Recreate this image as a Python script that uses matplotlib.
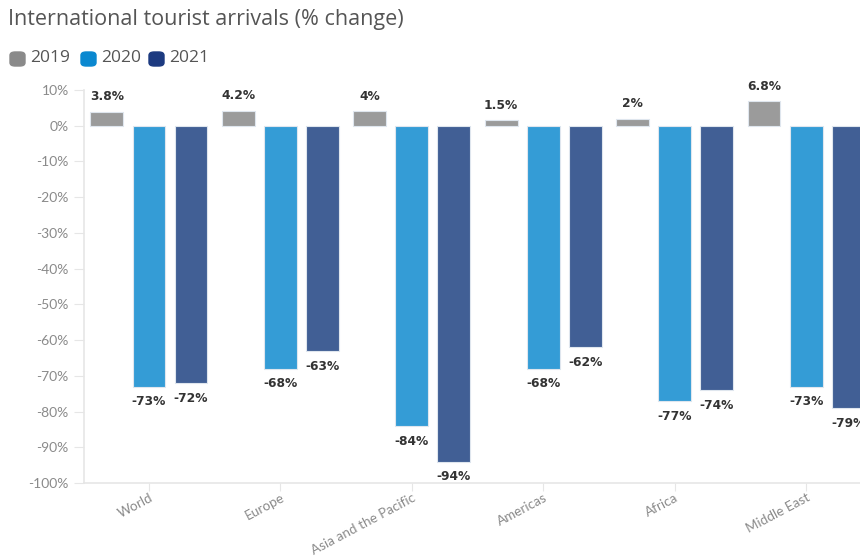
import matplotlib.pyplot as plt
from matplotlib.patches import FancyBboxPatch
import numpy as np

regions = ["World", "Europe", "Asia and the Pacific", "Americas", "Africa", "Middle East"]
years = ["2019", "2020", "2021"]
v2019 = [3.8, 4.2, 4, 1.5, 2, 6.8]
v2020 = [-73, -68, -84, -68, -77, -73]
v2021 = [-72, -63, -94, -62, -74, -79]

bar_colors = ["#9b9b9b", "#349cd6", "#415f95"]
legend_colors = ["#8a8a8a", "#0a88d0", "#1c3a80"]

fig = plt.figure(figsize=(8.6, 5.59), dpi=100)
ax = fig.add_axes([84 / 860, 76 / 559, 1 - 84 / 860, (483 - 90) / 559])

x = np.arange(len(regions))
off = 0.32
w = 0.25
for i, vals in enumerate([v2019, v2020, v2021]):
    xs = x + (i - 1) * off
    ax.bar(xs, vals, width=w, color=bar_colors[i], edgecolor="#dfe6ee", linewidth=0.8)
    for xi, v in zip(xs, vals):
        dy = 11 if v >= 0 else -11
        ax.annotate(f"{v:g}%", (xi, v), xytext=(0, dy), textcoords="offset points",
                    ha="center", va="center", fontsize=8.8, fontweight="bold",
                    color="#333333", family="DejaVu Sans")

ax.set_ylim(-100, 10)
ax.set_xlim(-0.494, 5.41)
ax.set_yticks(np.arange(-100, 11, 10))
ax.set_yticklabels([f"{t}%" for t in range(-100, 11, 10)], fontsize=10,
                   color="#8a8a8a", family="Lato")
ax.set_xticks(x)
ax.set_xticklabels(regions, rotation=28, ha="right", rotation_mode="anchor",
                   fontsize=9.7, color="#8a8a8a", family="Lato")
ax.tick_params(axis="y", length=7, color="#e6e6e6", pad=4)
ax.tick_params(axis="x", length=6, color="#e6e6e6", pad=0)
for s in ["top", "right"]:
    ax.spines[s].set_visible(False)
for s in ["left", "bottom"]:
    ax.spines[s].set_color("#e6e6e6")
    ax.spines[s].set_linewidth(1.2)

fig.text(8 / 860, 1 - 20 / 559, "International tourist arrivals (% change)",
         fontsize=15.5, color="#555555", family="Open Sans", va="center")

lx = [10, 81, 149]
for i, yr in enumerate(years):
    fig.patches.append(FancyBboxPatch((lx[i] / 860, 1 - 66 / 559), 15 / 860, 14 / 559,
                                      boxstyle="round,pad=0,rounding_size=0.006",
                                      transform=fig.transFigure, color=legend_colors[i]))
    fig.text((lx[i] + 20) / 860, 1 - 58 / 559, yr, fontsize=12.5, color="#555555",
             family="Open Sans", va="center")

fig.savefig("out.png", dpi=100)
